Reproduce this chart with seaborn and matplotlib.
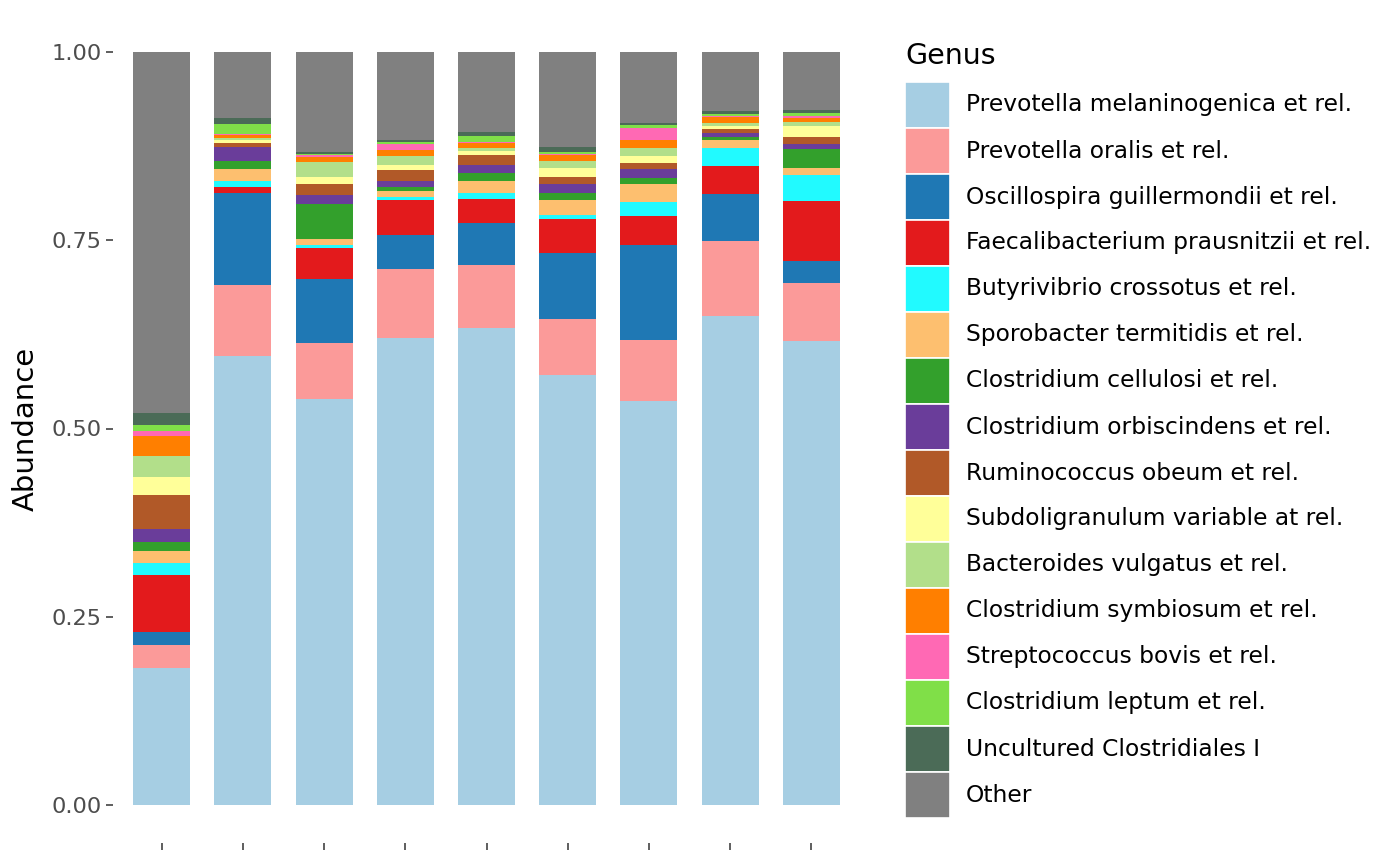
import numpy as np
import pandas as pd
import seaborn as sns
import matplotlib.pyplot as plt
from matplotlib.patches import Rectangle

# 9 samples, relative abundance per genus (bottom of stack first)
samples = [1, 2, 3, 4, 5, 6, 7, 8, 9]

genera = [
    "Prevotella melaninogenica et rel.",
    "Prevotella oralis et rel.",
    "Oscillospira guillermondii et rel.",
    "Faecalibacterium prausnitzii et rel.",
    "Butyrivibrio crossotus et rel.",
    "Sporobacter termitidis et rel.",
    "Clostridium cellulosi et rel.",
    "Clostridium orbiscindens et rel.",
    "Ruminococcus obeum et rel.",
    "Subdoligranulum variable at rel.",
    "Bacteroides vulgatus et rel.",
    "Clostridium symbiosum et rel.",
    "Streptococcus bovis et rel.",
    "Clostridium leptum et rel.",
    "Uncultured Clostridiales I",
    "Other",
]

prevotella_mel = [0.182, 0.596, 0.539, 0.620, 0.633, 0.571, 0.537, 0.649, 0.616]
prevotella_oralis = [0.031, 0.094, 0.074, 0.092, 0.084, 0.074, 0.080, 0.100, 0.077]
oscillospira = [0.017, 0.122, 0.086, 0.045, 0.056, 0.088, 0.126, 0.062, 0.029]
faecalibacterium = [0.076, 0.009, 0.040, 0.046, 0.032, 0.045, 0.039, 0.037, 0.080]
butyrivibrio = [0.016, 0.007, 0.004, 0.004, 0.008, 0.005, 0.019, 0.024, 0.035]
sporobacter = [0.016, 0.016, 0.009, 0.008, 0.015, 0.020, 0.023, 0.011, 0.009]
cellulosi = [0.012, 0.011, 0.046, 0.005, 0.011, 0.009, 0.008, 0.004, 0.025]
orbiscindens = [0.017, 0.019, 0.012, 0.008, 0.011, 0.013, 0.012, 0.005, 0.007]
ruminococcus = [0.045, 0.005, 0.015, 0.015, 0.013, 0.009, 0.008, 0.005, 0.009]
subdoligranulum = [0.024, 0.004, 0.009, 0.007, 0.005, 0.012, 0.009, 0.004, 0.015]
bacteroides = [0.027, 0.002, 0.019, 0.012, 0.004, 0.009, 0.011, 0.005, 0.005]
symbiosum = [0.027, 0.004, 0.007, 0.007, 0.007, 0.008, 0.011, 0.007, 0.005]
strep_bovis = [0.007, 0.0015, 0.003, 0.009, 0.001, 0.001, 0.016, 0.0015, 0.003]
leptum = [0.008, 0.013, 0.0015, 0.0015, 0.008, 0.003, 0.004, 0.003, 0.003]
uncultured = [0.015, 0.008, 0.003, 0.003, 0.005, 0.007, 0.003, 0.004, 0.004]
other = [0.480, 0.0875, 0.1325, 0.1175, 0.107, 0.126, 0.094, 0.0785, 0.078]

series = [prevotella_mel, prevotella_oralis, oscillospira, faecalibacterium,
          butyrivibrio, sporobacter, cellulosi, orbiscindens, ruminococcus,
          subdoligranulum, bacteroides, symbiosum, strep_bovis, leptum,
          uncultured, other]

colors = ["#A6CEE3", "#FB9A99", "#1F78B4", "#E31A1C", "#21FAFF", "#FDBF6F",
          "#33A02C", "#6A3D9A", "#B15928", "#FFFF99", "#B2DF8A", "#FF7F00",
          "#FF69B4", "#80DF48", "#4B6B57", "#808080"]
palette = dict(zip(genera, colors))

df = pd.DataFrame(
    [(s, g, v) for g, vals in zip(genera, series) for s, v in zip(samples, vals)],
    columns=["sample", "genus", "abundance"],
)

sns.set_style("white")
plt.rcParams["font.family"] = ["DejaVu Sans"]

W, H = 1400, 866
fig = plt.figure(figsize=(W / 100, H / 100), dpi=100)
ax = fig.add_axes([113 / W, 23 / H, (860 - 113) / W, (843 - 14) / H])

# seaborn stacks the first hue level on top, so pass reversed order
sns.histplot(data=df, x="sample", hue="genus", weights="abundance",
             multiple="stack", discrete=True, shrink=0.7,
             hue_order=genera[::-1], palette=palette,
             alpha=1, linewidth=0, legend=False, ax=ax)

ax.set_xlim(0.4, 9.6)
ax.set_ylim(-0.05, 1.05)
ax.set_yticks([0, 0.25, 0.5, 0.75, 1.0])
ax.set_yticklabels(["0.00", "0.25", "0.50", "0.75", "1.00"])
ax.set_xticks(samples)
ax.set_xticklabels([""] * len(samples))
ax.tick_params(axis="both", direction="out", length=4.8, width=1.1,
               color="#333333", labelcolor="#4D4D4D", labelsize=16.2, pad=3.5,
               left=True, bottom=True)
for sp in ax.spines.values():
    sp.set_visible(False)
ax.set_xlabel("")
ax.set_ylabel("Abundance", fontsize=21, labelpad=8, color="black")

# legend drawn by hand: ggplot-like square keys, 46 px rows
fig.text(905 / W, 1 - 64 / H, "Genus", fontsize=20.5, color="black",
         ha="left", va="baseline")
key_top, row_h = 82, 46
for i, g in enumerate(genera):
    top = key_top + i * row_h
    fig.add_artist(Rectangle((905 / W, 1 - (top + row_h) / H), 45 / W, row_h / H,
                             transform=fig.transFigure, facecolor=palette[g],
                             edgecolor="white", linewidth=1.2))
    fig.text(966 / W, 1 - (top + row_h / 2) / H, g, fontsize=16.8,
             color="black", ha="left", va="center")

fig.savefig("out.png", dpi=100)
